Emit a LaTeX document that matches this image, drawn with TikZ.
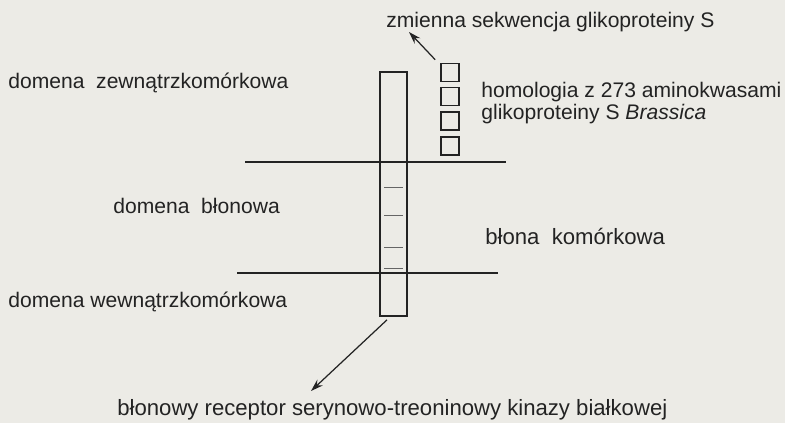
\documentclass[tikz,border=0pt]{standalone}
\usepackage{fontspec}
\setmainfont{Liberation Sans}
\usepackage{xcolor}
\usetikzlibrary{arrows.meta,positioning,calc}

\definecolor{paper}{RGB}{236,235,230}
\definecolor{ink}{RGB}{35,35,35}

\begin{document}
\begin{tikzpicture}[
    x=0.02cm, y=-0.02cm,
    label/.style={inner sep=0pt, anchor=base west, text=ink, font=\fontsize{12}{10.8}\selectfont},
    biglabel/.style={label, font=\fontsize{12.6}{12}\selectfont},
    column/.style={rectangle, draw=ink, line width=1pt, inner sep=0pt, minimum width=0.54cm, minimum height=4.88cm},
    segment/.style={rectangle, draw=ink, line width=0.9pt, inner sep=0pt, minimum size=0.36cm},
    membrane/.style={draw=ink, line width=0.7pt},
    notch/.style={draw=ink!70, line width=0.5pt},
    arrow/.style={-{Stealth[length=7pt, width=4.5pt]}, draw=ink, line width=0.7pt}
]
    % paper
    \fill[paper] (0,0) rectangle (785,423);
    \useasboundingbox (0,0) rectangle (785,423);

    % Receptor column
    \node[column] (col) at (393.5,194) {};
    \foreach \y in {187,215,247,268}
        \draw[notch] (384,\y) -- (403,\y);

    % Small segments beside the column
    \foreach \i/\y in {1/72.5,2/96.5,3/121,4/146}
        \node[segment] (seg\i) at (450,\y) {};

    % Membrane borders
    \coordinate (memTopL) at (245,162);
    \coordinate (memTopR) at (506,162);
    \coordinate (memBotL) at (237,273);
    \coordinate (memBotR) at (498,273);
    \draw[membrane] (memTopL) -- (memTopR);
    \draw[membrane] (memBotL) -- (memBotR);

    % Labels
    \node[label] (zmienna) at (386,27) {zmienna sekwencja glikoproteiny S};
    \node[label, align=left, anchor=north west] (homol) at (481,82)
        {homologia z 273 aminokwasami\\glikoproteiny S \textit{Brassica}};
    \node[label] (zewn) at (8,88) {domena\ \ zewnątrzkomórkowa};
    \node[label] (blonowa) at (113,213) {domena\ \ błonowa};
    \node[biglabel] (blona) at (485,244) {błona\ \ komórkowa};
    \node[label] (wewn) at (8,307) {domena wewnątrzkomórkowa};
    \node[biglabel] (receptor) at (117,415) {błonowy receptor serynowo-treoninowy kinazy białkowej};

    % Arrows
    \coordinate (zmTip) at (409,32);
    \coordinate (recTip) at (311,391);
    \draw[arrow] ($(seg1.north west)+(-5,-3)$) -- (zmTip);
    \draw[arrow] ($(col.south)+(-6.5,3)$) -- (recTip);
\end{tikzpicture}
\end{document}
